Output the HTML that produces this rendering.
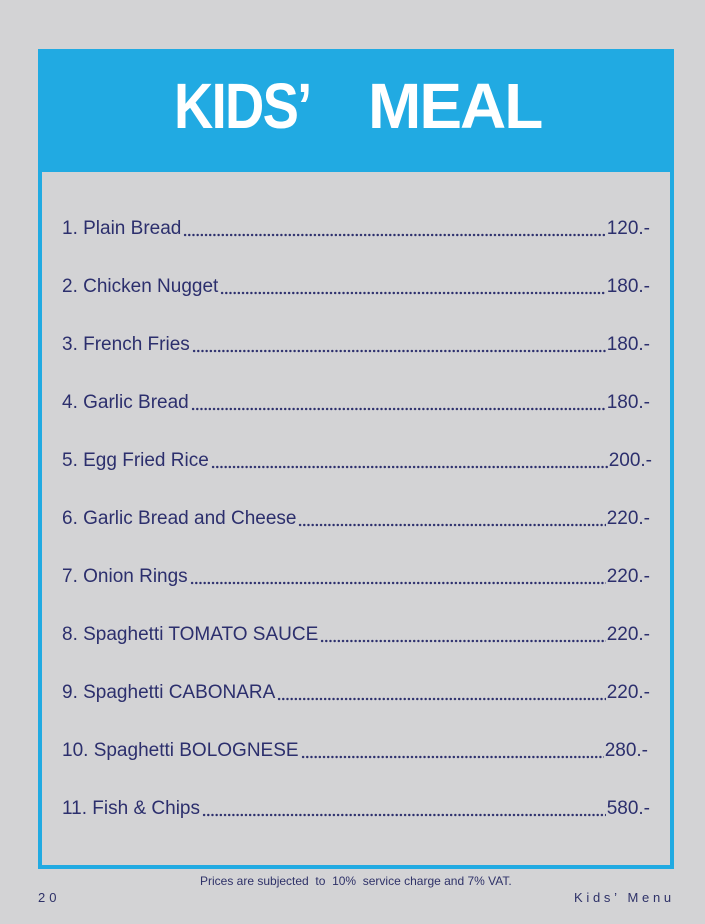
<!DOCTYPE html>
<html>
<head>
<meta charset="utf-8">
<style>
  html, body { margin:0; padding:0; }
  body { width:705px; height:924px; background:#d3d3d5; position:relative; overflow:hidden;
         font-family:"Liberation Sans", "DejaVu Sans", sans-serif; color:#2c2f6d; }
  .box { position:absolute; left:38px; top:49px; width:636px; height:820px;
         border:4px solid #21aae2; box-sizing:border-box; background:#d3d3d5; }
  .hdr { position:absolute; left:38px; top:49px; width:636px; height:123px; background:#21aae2; }
  .title { position:absolute; top:74px; font-size:64px; line-height:64px; font-weight:bold; color:#fff; white-space:nowrap; transform-origin:0 0; }
  .row { position:absolute; left:62px; width:588px; height:22px; display:flex; font-size:19px; line-height:22px; white-space:nowrap; }
  .row .fill { flex:1; margin:0 1px 0 2px;
     background-image: radial-gradient(circle, #2c2f6d 1.05px, rgba(44,47,109,0) 1.4px);
     background-size:4.2px 4px; background-repeat:repeat-x; background-position:0 14.5px; }
  .foot { position:absolute; left:200px; top:874px; font-size:12px; line-height:14px; white-space:pre; color:#2e3168; }
  .pg { position:absolute; left:38px; top:890px; font-size:13px; line-height:15px; letter-spacing:4px; color:#2e3168; }
  .km { position:absolute; left:574px; top:890px; font-size:13px; line-height:15px; letter-spacing:3.7px; color:#2e3168; white-space:pre; }
</style>
</head>
<body>
  <div class="box"></div>
  <div class="hdr"></div>
  <div class="title" style="left:174px; letter-spacing:-2px; transform:scaleX(0.85);">KIDS’</div>
  <div class="title" style="left:368px; letter-spacing:-2px;">MEAL</div>

  <div class="row" style="top:218px;"><span>1. Plain Bread</span><span class="fill"></span><span>120.-</span></div>
  <div class="row" style="top:276px;"><span>2. Chicken Nugget</span><span class="fill"></span><span>180.-</span></div>
  <div class="row" style="top:334px;"><span>3. French Fries</span><span class="fill"></span><span>180.-</span></div>
  <div class="row" style="top:392px;"><span>4. Garlic Bread</span><span class="fill"></span><span>180.-</span></div>
  <div class="row" style="top:450px; width:590px;"><span>5. Egg Fried Rice</span><span class="fill"></span><span>200.-</span></div>
  <div class="row" style="top:508px;"><span>6. Garlic Bread and Cheese</span><span class="fill"></span><span>220.-</span></div>
  <div class="row" style="top:566px;"><span>7. Onion Rings</span><span class="fill"></span><span>220.-</span></div>
  <div class="row" style="top:624px;"><span>8. Spaghetti TOMATO SAUCE</span><span class="fill"></span><span>220.-</span></div>
  <div class="row" style="top:682px;"><span>9. Spaghetti CABONARA</span><span class="fill"></span><span>220.-</span></div>
  <div class="row" style="top:740px; width:586px;"><span>10. Spaghetti BOLOGNESE</span><span class="fill"></span><span>280.-</span></div>
  <div class="row" style="top:798px;"><span>11. Fish &amp; Chips</span><span class="fill"></span><span>580.-</span></div>

  <div class="foot">Prices are subjected  to  10%  service charge and 7% VAT.</div>
  <div class="pg">20</div>
  <div class="km">Kids’ Menu</div>
</body>
</html>
